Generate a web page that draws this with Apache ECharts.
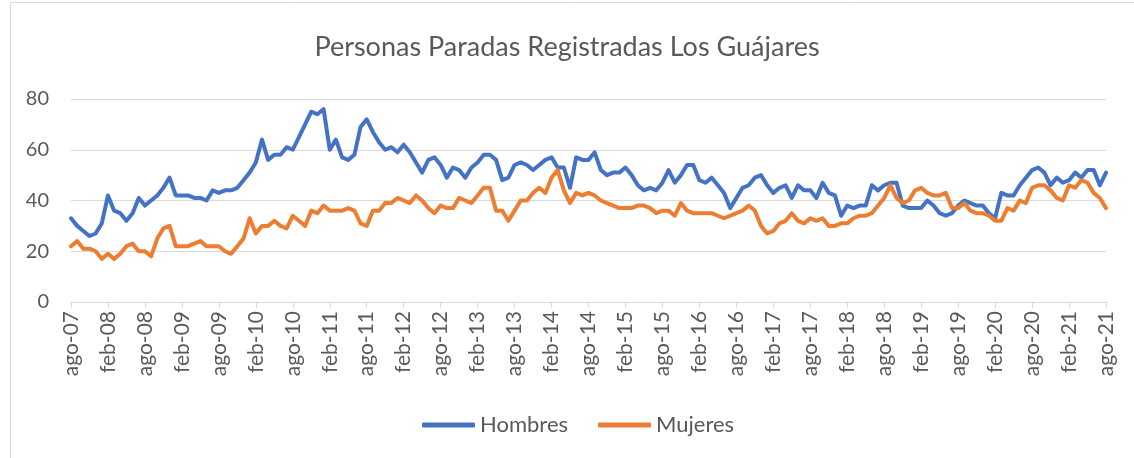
<!DOCTYPE html>
<html>
<head>
<meta charset="utf-8">
<script src="https://cdn.jsdelivr.net/npm/echarts@6/dist/echarts.min.js"></script>
<style>
html,body{margin:0;padding:0;background:#fff;}
#chart{width:1134px;height:458px;}
</style>
</head>
<body>
<div id="chart"></div>
<script>
// Category labels: monthly from ago-07 to ago-21
const monthNames = ['ene','feb','mar','abr','may','jun','jul','ago','sep','oct','nov','dic'];
const startYear = 2007, startMonth = 7; // index in monthNames (ago)
const nPoints = 169;
const categories = [];
for (let k = 0; k < nPoints; k++) {
  const m = (startMonth + k) % 12;
  const y = startYear + Math.floor((startMonth + k) / 12);
  categories.push(monthNames[m] + '-' + String(y % 100).padStart(2, '0'));
}

const hombres = [
  33,30,28,26,27,31,42,36,35,32,35,41,38,40,42,45,49,42,42,42,
  41,41,40,44,43,44,44,45,48,51,55,64,56,58,58,61,60,65,70,75,
  74,76,60,64,57,56,58,69,72,67,63,60,61,59,62,59,55,51,56,57,
  54,49,53,52,49,53,55,58,58,56,48,49,54,55,54,52,54,56,57,53,
  53,45,57,56,56,59,52,50,51,51,53,50,46,44,45,44,47,52,47,50,
  54,54,48,47,49,46,43,37,41,45,46,49,50,46,43,45,46,41,46,44,
  44,41,47,43,42,34,38,37,38,38,46,44,46,47,47,38,37,37,37,40,
  38,35,34,35,38,40,39,38,38,35,33,43,42,42,46,49,52,53,51,46,
  49,47,48,51,49,52,52,46,51
];

const mujeres = [
  22,24,21,21,20,17,19,17,19,22,23,20,20,18,25,29,30,22,22,22,
  23,24,22,22,22,20,19,22,25,33,27,30,30,32,30,29,34,32,30,36,
  35,38,36,36,36,37,36,31,30,36,36,39,39,41,40,39,42,40,37,35,
  38,37,37,41,40,39,42,45,45,36,36,32,36,40,40,43,45,43,49,52,
  44,39,43,42,43,42,40,39,38,37,37,37,38,38,37,35,36,36,34,39,
  36,35,35,35,35,34,33,34,35,36,38,36,30,27,28,31,32,35,32,31,
  33,32,33,30,30,31,31,33,34,34,35,38,41,46,41,39,40,44,45,43,
  42,42,43,37,37,39,36,35,35,34,32,32,37,36,40,39,45,46,46,44,
  41,40,46,45,48,47,43,41,37
];

const yTicks = {min: 0, max: 80, interval: 20};
const seriesNames = ['Hombres', 'Mujeres'];
const colors = ['#4472C4', '#ED7D31'];

const chart = echarts.init(document.getElementById('chart'), null, {renderer: 'canvas'});
const fontFam = 'Lato, "Open Sans", sans-serif';
chart.setOption({
  animation: false,
  backgroundColor: '#ffffff',
  title: {
    text: 'Personas Paradas Registradas Los Guájares',
    left: 'center',
    top: 29,
    textStyle: {color: '#595959', fontSize: 27, fontWeight: 'normal', fontFamily: fontFam}
  },
  graphic: [{
    type: 'rect', left: 8, top: 0,
    shape: {width: 1125, height: 457},
    style: {fill: 'none', stroke: '#d9d9d9', lineWidth: 1},
    silent: true
  }],
  legend: {
    data: seriesNames,
    bottom: 17,
    left: 417,
    icon: 'roundRect',
    itemWidth: 53,
    itemHeight: 5,
    itemGap: 30,
    textStyle: {color: '#595959', fontSize: 22, fontFamily: fontFam, padding: [0,0,0,0]}
  },
  grid: {left: 71, right: 28, top: 99, bottom: 156, containLabel: false},
  xAxis: {
    type: 'category',
    data: categories,
    boundaryGap: false,
    axisLine: {lineStyle: {color: '#d9d9d9', width: 1}},
    axisTick: {show: true, interval: 5, length: 6, lineStyle: {color: '#d9d9d9'}},
    axisLabel: {interval: 5, rotate: 90, color: '#595959', fontSize: 21, fontFamily: fontFam, margin: 9},
    splitLine: {show: false}
  },
  yAxis: {
    type: 'value',
    min: yTicks.min, max: yTicks.max, interval: yTicks.interval,
    axisLine: {show: false},
    axisTick: {show: false},
    axisLabel: {color: '#595959', fontSize: 20, fontFamily: fontFam, margin: 22},
    splitLine: {lineStyle: {color: '#d9d9d9', width: 1}}
  },
  series: [
    {name: seriesNames[0], type: 'line', data: hombres, showSymbol: false, symbol: 'none',
     lineStyle: {color: colors[0], width: 4, join: 'round', cap: 'round'}, itemStyle: {color: colors[0]}},
    {name: seriesNames[1], type: 'line', data: mujeres, showSymbol: false, symbol: 'none',
     lineStyle: {color: colors[1], width: 4, join: 'round', cap: 'round'}, itemStyle: {color: colors[1]}}
  ]
});
</script>
</body>
</html>
